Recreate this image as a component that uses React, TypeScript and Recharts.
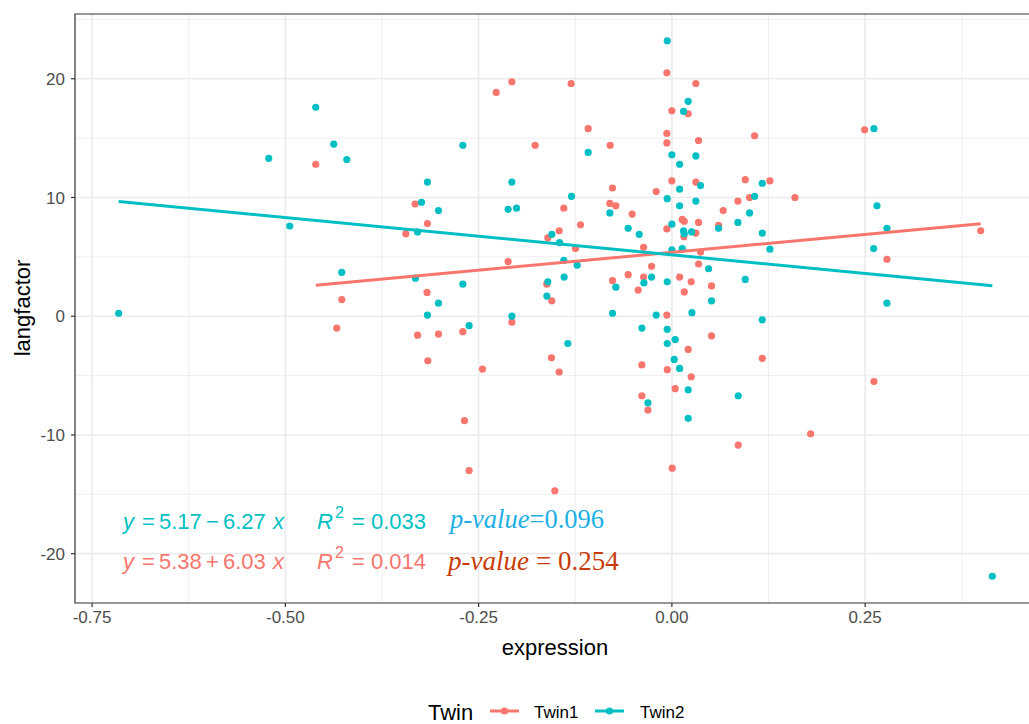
import { CartesianGrid, ReferenceArea, Scatter, ScatterChart, XAxis, YAxis } from "recharts";

const RED = "#F8766D";
const TEAL = "#00BFC4";

// Twin1 points (expression, langfactor)
const twin1Expression = [
  -0.4607, -0.427, -0.4335, -0.2273, -0.207, -0.1303, -0.1083, -0.1769, -0.0798, -0.0065,
  0.0, 0.031, 0.0211, -0.0065, -0.0065, 0.0345, -0.0768, -0.0802, -0.0725, -0.0514,
  -0.0203, 0.0, 0.031, 0.0134, 0.016, -0.0065, 0.0345, -0.3322, -0.3162, -0.3442,
  -0.2118, -0.1398, -0.1182, -0.1458, -0.1605, -0.1247, -0.0366, -0.0263, -0.0565, -0.0768,
  -0.0366, -0.0436, 0.01, 0.025, 0.016, 0.0345, -0.1618, -0.1553, -0.3167, -0.207,
  -0.0065, -0.2704, -0.329, -0.3019, -0.3157, -0.245, -0.2683, -0.2623, -0.1557, -0.1458,
  -0.1514, -0.0388, -0.006, 0.0211, 0.025, 0.0043, -0.0388, -0.031, 0.0004, 0.0513,
  0.1169, 0.2614, 0.1795, 0.0858, 0.107, 0.2493, 0.0949, 0.1268, 0.1592, 0.0854,
  0.1005, 0.0664, 0.0604, 0.031, 0.0155, 0.3994, 0.2782, 0.0371, 0.0513,
];
const twin1Langfactor = [
  12.8, 1.4, -1.0, 18.85, 19.75, 19.6, 15.8, 14.4, 14.4, 20.5,
  17.3, 19.6, 17.05, 15.4, 14.6, 14.8, 10.8, 9.5, 9.3, 8.6,
  10.5, 11.4, 11.3, 8.15, 8.0, 7.35, 7.9, 9.45, 7.8, 6.95,
  4.6, 9.1, 7.7, 7.2, 6.6, 5.7, 5.8, 4.2, 3.5, 3.0,
  3.3, 2.2, 3.3, 2.9, 2.05, 4.4, 2.7, 1.3, 2.0, -0.5,
  0.1, -1.3, -1.6, -1.5, -3.75, -4.45, -8.8, -13.0, -3.5, -4.7,
  -14.7, -4.1, -4.5, -2.8, -5.1, -6.1, -6.7, -7.9, -12.8, -1.65,
  -3.55, -5.5, -9.9, -10.85, 15.2, 15.7, 11.5, 11.4, 10.0, 9.7,
  10.0, 8.9, 7.65, 7.0, 6.7, 7.2, 4.8, 5.4, 2.55,
];

// Twin2 points (expression, langfactor)
const twin2Expression = [
  -0.7156, -0.5215, -0.4607, -0.4374, -0.4205, -0.4943, -0.427, -0.2704, -0.3162, -0.3239,
  -0.3019, -0.329, -0.207, -0.2118, -0.201, -0.1298, -0.1083, -0.1553, -0.1453, -0.1398,
  -0.1225, -0.3317, -0.2704, -0.3019, -0.3162, -0.207, -0.2623, -0.1605, -0.1618, -0.1394,
  -0.0802, -0.0565, -0.0423, -0.0768, -0.0362, -0.0263, -0.0203, -0.006, -0.006, 0.0,
  0.01, 0.0151, 0.0211, 0.031, -0.006, 0.01, 0.01, 0.0, 0.0151, 0.016,
  0.0255, 0.031, 0.0371, 0.0, 0.0134, 0.0259, -0.006, -0.0388, -0.1346, -0.006,
  0.0043, 0.003, 0.01, 0.0211, 0.0211, -0.031, 0.0513, 0.1169, 0.2782, 0.0858,
  0.4145, 0.1169, 0.2614, 0.107, 0.1005, 0.0854, 0.0604, 0.1169, 0.2653, 0.2782,
  0.261, 0.1268, 0.0475, 0.0949, -0.0725,
];
const twin2Langfactor = [
  0.25, 13.3, 17.6, 14.5, 13.2, 7.6, 3.7, 14.4, 11.3, 9.6,
  8.9, 7.1, 11.3, 9.0, 9.1, 10.1, 13.8, 6.9, 6.2, 4.7,
  4.3, 3.2, 2.7, 1.1, 0.1, 0.0, -0.8, 2.9, 1.7, 3.3,
  8.7, 7.4, 6.9, 0.25, 2.8, 3.3, 0.1, 2.9, 23.2, 13.6,
  12.8, 17.25, 18.1, 13.5, 9.9, 10.7, 9.3, 7.75, 7.2, 6.95,
  7.1, 9.7, 11.0, 5.6, 5.7, 0.3, -1.1, -1.0, -2.3, -2.3,
  -1.96, -3.64, -4.4, -6.2, -8.6, -7.3, 1.3, -0.3, 1.1, -6.7,
  -21.9, 11.2, 15.8, 10.1, 8.7, 7.9, 7.4, 7.0, 9.3, 7.4,
  5.7, 5.65, 4.0, 3.1, 2.45,
];

// fitted lines, from the printed equations
const twin1Fit = { intercept: 5.38, slope: 6.03 };
const twin2Fit = { intercept: 5.17, slope: -6.27 };

const xTicks = [-0.75, -0.5, -0.25, 0, 0.25];
const yTicks = [-20, -10, 0, 10, 20];
const xMinor = [-0.625, -0.375, -0.125, 0.125, 0.375];
const yMinor = [-15, -5, 5, 15, 25];
const xDomain: [number, number] = [-0.7721, 0.471];
const yDomain: [number, number] = [-24.155, 25.455];

const toPoints = (xs: number[], ys: number[]) => xs.map((x, i) => ({ x, y: ys[i] }));

const fitLine = (xs: number[], fit: { intercept: number; slope: number }) => {
  const lo = Math.min(...xs);
  const hi = Math.max(...xs);
  return [lo, hi].map((x) => ({ x, y: fit.intercept + fit.slope * x }));
};

const twin1Points = toPoints(twin1Expression, twin1Langfactor);
const twin2Points = toPoints(twin2Expression, twin2Langfactor);
const twin1Line = fitLine(twin1Expression, twin1Fit);
const twin2Line = fitLine(twin2Expression, twin2Fit);

const dot = (color: string) => (p: any) => <circle cx={p.cx} cy={p.cy} r={3.6} fill={color} />;
const noDot = () => <g />;

const SANS = "'Liberation Sans', Arial, sans-serif";
const SERIF = "'Liberation Serif', 'Times New Roman', serif";

export default function App() {
  return (
    <div style={{ position: "absolute", left: 0, top: 0, width: 1029, height: 724, overflow: "hidden", background: "#fff" }}>
      <ScatterChart width={1037} height={724} margin={{ top: 14, right: 1, left: 0, bottom: 91 }}>
        <CartesianGrid
          horizontalValues={yMinor}
          verticalValues={xMinor}
          stroke="#EBEBEB"
          strokeWidth={0.8}
        />
        <CartesianGrid
          horizontalValues={yTicks}
          verticalValues={xTicks}
          stroke="#EBEBEB"
          strokeWidth={1.6}
        />
        <XAxis
          type="number"
          dataKey="x"
          domain={xDomain}
          ticks={xTicks}
          allowDataOverflow
          height={30}
          axisLine={false}
          tickSize={4}
          tickMargin={4}
          tickLine={{ stroke: "#333333", strokeWidth: 1.2 }}
          tickFormatter={(v: number) => v.toFixed(2)}
          tick={{ fill: "#4D4D4D", fontSize: 17, fontFamily: SANS }}
        />
        <YAxis
          type="number"
          dataKey="y"
          domain={yDomain}
          ticks={yTicks}
          allowDataOverflow
          width={75}
          axisLine={false}
          tickSize={4}
          tickMargin={6}
          tickLine={{ stroke: "#333333", strokeWidth: 1.2 }}
          tick={{ fill: "#4D4D4D", fontSize: 17, fontFamily: SANS }}
        />
        <Scatter data={twin1Points} shape={dot(RED)} isAnimationActive={false} />
        <Scatter data={twin2Points} shape={dot(TEAL)} isAnimationActive={false} />
        <Scatter data={twin1Line} line={{ stroke: RED, strokeWidth: 3 }} shape={noDot} isAnimationActive={false} />
        <Scatter data={twin2Line} line={{ stroke: TEAL, strokeWidth: 3 }} shape={noDot} isAnimationActive={false} />
        <ReferenceArea
          x1={xDomain[0]}
          x2={xDomain[1]}
          y1={yDomain[0]}
          y2={yDomain[1]}
          fill="none"
          stroke="#333333"
          strokeWidth={1.2}
          ifOverflow="visible"
        />
      </ScatterChart>
      <svg
        width={1029}
        height={724}
        style={{ position: "absolute", left: 0, top: 0, pointerEvents: "none" }}
      >
        <text x={22} y={308} transform="rotate(-90 22 308)" textAnchor="middle" dominantBaseline="central" fontFamily={SANS} fontSize={22} fill="#000">
          langfactor
        </text>
        <text x={555} y={655} textAnchor="middle" fontFamily={SANS} fontSize={22} fill="#000">
          expression
        </text>

        <text y={529} fontFamily={SANS} fontSize={22} fill={TEAL}>
          <tspan x={123} fontStyle="italic">y</tspan>
          <tspan x={142}>=</tspan>
          <tspan x={159}>5.17</tspan>
          <tspan x={206}>−</tspan>
          <tspan x={223}>6.27</tspan>
          <tspan x={273} fontStyle="italic">x</tspan>
          <tspan x={317} fontStyle="italic">R</tspan>
          <tspan x={335} dy={-11} fontSize={16}>2</tspan>
          <tspan x={352} dy={11}>=</tspan>
          <tspan x={371}>0.033</tspan>
        </text>
        <text y={528} fontFamily={SERIF} fontSize={26.5} fill="#1CB0E6">
          <tspan x={450} fontStyle="italic">p-value</tspan>
          <tspan>=0.096</tspan>
        </text>

        <text y={569} fontFamily={SANS} fontSize={22} fill={RED}>
          <tspan x={123} fontStyle="italic">y</tspan>
          <tspan x={142}>=</tspan>
          <tspan x={159}>5.38</tspan>
          <tspan x={206}>+</tspan>
          <tspan x={223}>6.03</tspan>
          <tspan x={273} fontStyle="italic">x</tspan>
          <tspan x={317} fontStyle="italic">R</tspan>
          <tspan x={335} dy={-11} fontSize={16}>2</tspan>
          <tspan x={352} dy={11}>=</tspan>
          <tspan x={371}>0.014</tspan>
        </text>
        <text y={570} fontFamily={SERIF} fontSize={27} fill="#C83C0A">
          <tspan x={448} fontStyle="italic">p-value</tspan>
          <tspan x={536}>=</tspan>
          <tspan x={558}>0.254</tspan>
        </text>

        <text x={428} y={720} fontFamily={SANS} fontSize={22} fill="#000">Twin</text>
        <line x1={490} x2={519} y1={711} y2={711} stroke={RED} strokeWidth={3} />
        <circle cx={504.5} cy={711} r={3.6} fill={RED} />
        <text x={534} y={718} fontFamily={SANS} fontSize={17} fill="#000">Twin1</text>
        <line x1={595} x2={624} y1={711} y2={711} stroke={TEAL} strokeWidth={3} />
        <circle cx={609.5} cy={711} r={3.6} fill={TEAL} />
        <text x={640} y={718} fontFamily={SANS} fontSize={17} fill="#000">Twin2</text>
      </svg>
    </div>
  );
}
